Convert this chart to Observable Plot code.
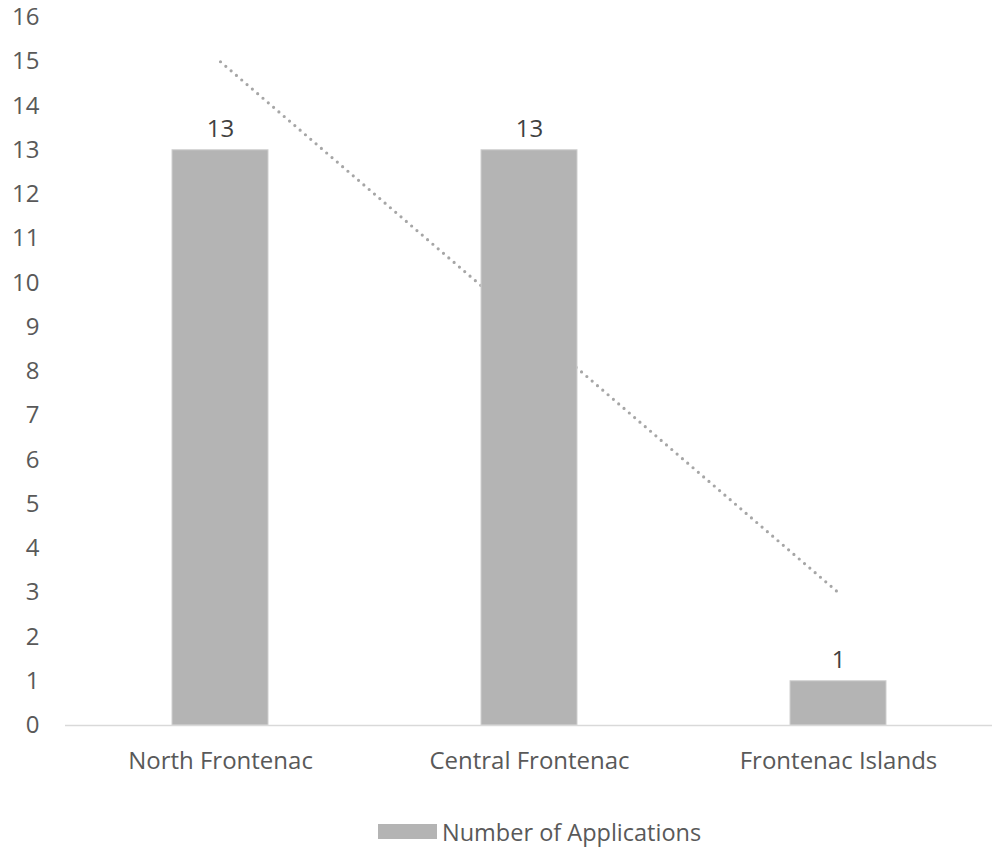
<!DOCTYPE html>
<html>
<head>
<meta charset="utf-8">
<script src="https://cdn.jsdelivr.net/npm/d3@7"></script>
<script src="https://cdn.jsdelivr.net/npm/@observablehq/plot@0.6"></script>
<style>
  html, body { margin: 0; padding: 0; background: #fff; }
  body { width: 992px; font-family: "Open Sans", sans-serif; }
  #legend { height: 47px; display: flex; justify-content: flex-start; align-items: center; padding-left: 378px; padding-top: 16px; box-sizing: border-box; color: #595959; font-size: 23.5px; }
  #legend .sw { width: 59px; height: 15px; background: #b4b4b4; margin-right: 5px; }
  svg { overflow: visible; }
</style>
</head>
<body>
<div id="chart"></div>
<div id="legend"><span class="sw"></span><span class="lbl"></span></div>
<script>
const categories = ["North Frontenac", "Central Frontenac", "Frontenac Islands"];
const applications = [13, 13, 1];
const trendValues = [15, 9, 3];
const yTicks = [0,1,2,3,4,5,6,7,8,9,10,11,12,13,14,15,16];
const seriesName = "Number of Applications";

const bars = categories.map((c, i) => ({category: c, value: applications[i]}));
const trend = categories.map((c, i) => ({category: c, value: trendValues[i]}));

const FS = 24;
const chart = Plot.plot({
  width: 992,
  height: 800,
  marginLeft: 65,
  marginRight: 0,
  marginTop: 17,
  marginBottom: 75,
  style: {fontFamily: "'Open Sans', sans-serif", fontSize: FS + "px", color: "#595959", background: "#fff", overflow: "visible"},
  x: {domain: categories, paddingInner: 0.69, paddingOuter: 0.345, label: null},
  y: {domain: [0, 16], label: null},
  marks: [
    Plot.axisY({ticks: yTicks, tickSize: 0, tickPadding: 26, label: null, fontSize: FS, fill: "#595959"}),
    Plot.axisX({tickSize: 0, tickPadding: 26, label: null, fontSize: FS, fill: "#595959"}),
    Plot.line(trend, {x: "category", y: "value", stroke: "#a6a6a6", strokeWidth: 3.2, strokeDasharray: "0 7", strokeLinecap: "round"}),
    Plot.barY(bars, {x: "category", y: "value", fill: "#b4b4b4", stroke: "#cfcfcf", strokeWidth: 1}),
    Plot.ruleY([0], {stroke: "#d9d9d9", strokeWidth: 1.5}),
    Plot.text(bars, {x: "category", y: "value", text: d => String(d.value), dy: -21, fontSize: FS, fill: "#404040"})
  ]
});
document.getElementById("chart").appendChild(chart);
document.querySelector("#legend .lbl").textContent = seriesName;
</script>
</body>
</html>
